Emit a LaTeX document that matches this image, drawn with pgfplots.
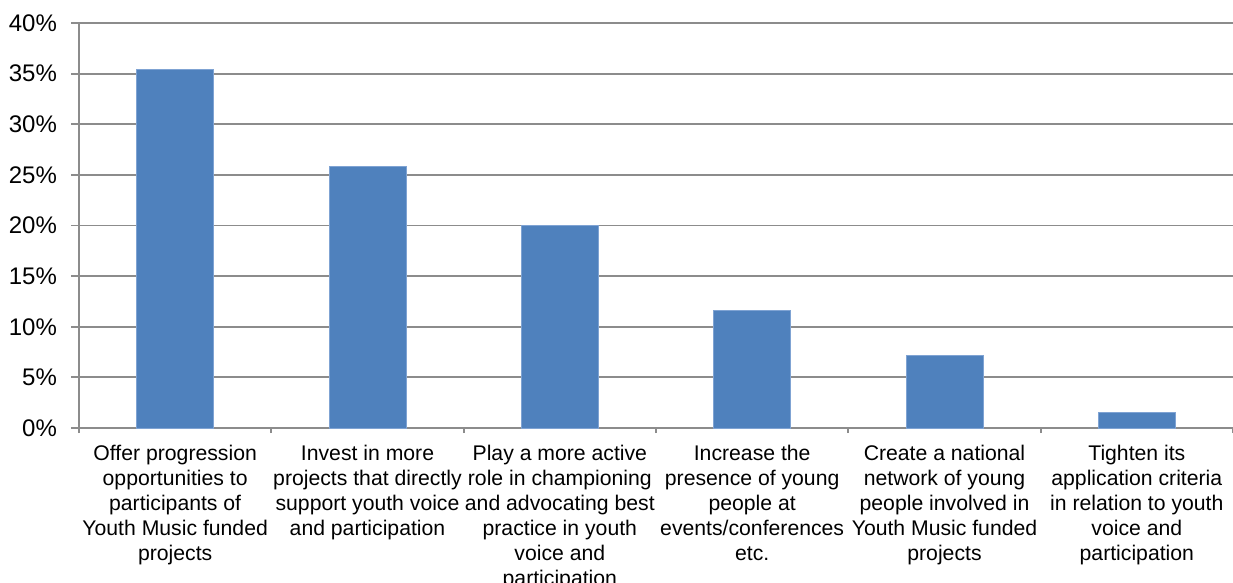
\documentclass[border=0pt]{standalone}
\usepackage{pgfplots}
\pgfplotsset{compat=1.18}
\usepackage{fontspec}
\setmainfont{Liberation Sans}
\definecolor{barblue}{HTML}{4F81BD}
\definecolor{baredge}{HTML}{7FA3D3}
\definecolor{gridgray}{HTML}{8C8C8C}
\begin{document}
\begin{tikzpicture}
\begin{axis}[
  scale only axis,
  width=577pt, height=202.5pt,
  xmin=-0.5, xmax=5.5,
  ymin=0, ymax=40,
  axis x line=bottom, axis y line=left,
  axis line style={-, gridgray, line width=0.9pt},
  ytick={0,5,...,40},
  yticklabels={0\%,5\%,10\%,15\%,20\%,25\%,30\%,35\%,40\%},
  ymajorgrids,
  major grid style={gridgray, line width=0.9pt},
  xtick={0,1,2,3,4,5},
  xticklabels={
    {Offer progression\\opportunities to\\participants of\\Youth Music funded\\projects},
    {Invest in more\\projects that directly\\support youth voice\\and participation},
    {Play a more active\\role in championing\\and advocating best\\practice in youth\\voice and\\participation},
    {Increase the\\presence of young\\people at\\events/conferences\\etc.},
    {Create a national\\network of young\\people involved in\\Youth Music funded\\projects},
    {Tighten its\\application criteria\\in relation to youth\\voice and\\participation}},
  minor xtick={-0.5,0.5,...,5.5},
  tick align=outside,
  major tick length=4pt,
  minor tick length=2.5pt,
  x tick style={draw=none},
  minor x tick style={draw=gridgray, line width=0.9pt},
  y tick style={gridgray, line width=0.9pt},
  xticklabel style={font=\fontsize{10.6}{12.5}\selectfont, black, align=center, anchor=north, yshift=-1pt, inner xsep=0pt},
  yticklabel style={font=\fontsize{12}{14}\selectfont, black, xshift=-3.5pt},
  /pgf/number format/assume math mode=true,
  clip=false,
]
\addplot[ybar, bar width=38.5pt, fill=barblue, draw=baredge, line width=0.4pt]
  coordinates {(0,35.4) (1,25.8) (2,20.0) (3,11.6) (4,7.2) (5,1.5)};
\end{axis}
\pgfresetboundingbox
\path ([xshift=-39.5pt,yshift=-77pt]current axis.south west) rectangle ([yshift=11.5pt]current axis.north east);
\end{tikzpicture}
\end{document}
